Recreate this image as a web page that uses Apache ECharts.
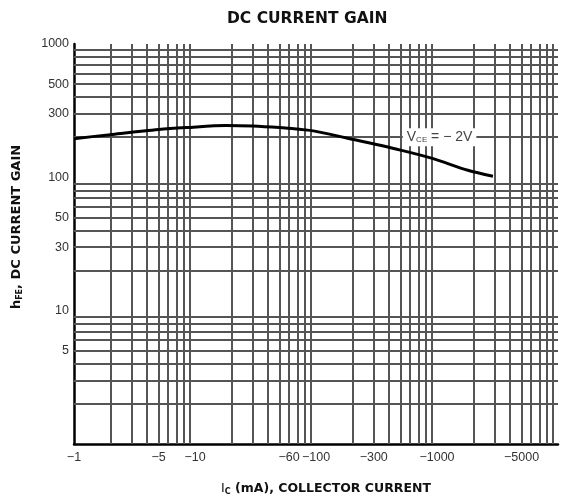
<!DOCTYPE html>
<html><head><meta charset="utf-8">
<script src="https://cdn.jsdelivr.net/npm/echarts@6/dist/echarts.min.js"></script>
<style>html,body{margin:0;padding:0;background:#fff}#c{width:569px;height:502px}</style>
</head><body><div id="c"></div>
<script>
// Collector current Ic (mA, magnitude) and DC current gain hFE at VCE = -2V
const icValues = [1, 2, 5, 8.5, 18, 30, 50, 85, 95, 190, 500, 930, 1800, 2900];
const hfeValues = [195, 209, 228, 236, 245, 243, 236, 226, 223, 195, 160, 138, 113, 102];
const xTickLabels = [1, 5, 10, 60, 100, 300, 1000, 5000];
const yTickLabels = [5, 10, 30, 50, 100, 300, 500, 1000];
const xGridValues = [2,3,4,5,6,7,8,9,20,30,40,50,60,70,80,90,200,300,400,500,600,700,800,900,2000,3000,4000,5000,6000,7000,8000,9000];
const yGridValues = [2,3,4,5,6,7,8,9,20,30,40,50,60,70,80,90,200,300,400,500,600,700,800,900];
const annotation = {ic: 1050, hfe: 200};

const chart = echarts.init(document.getElementById('c'), null, {renderer: 'canvas'});
const txt = '#333';
const bold = 'DejaVu Sans';
chart.setOption({
  animation: false,
  title: {
    text: 'DC CURRENT GAIN', left: 222, top: 6,
    textStyle: {fontFamily: bold, fontWeight: 'bold', fontSize: 15.5, color: '#111'}
  },
  grid: {left: 74, top: 44, right: 11, bottom: 58},
  xAxis: {
    type: 'log', logBase: 10, min: 1, max: 10000,
    name: '{i|I}{s|C} (mA), COLLECTOR CURRENT',
    nameLocation: 'middle', nameGap: 38,
    nameTextStyle: {
      padding: [0, 0, 0, 20],
      rich: {
        i: {fontFamily: bold, fontSize: 12.5, fontWeight: 'normal', color: '#111'},
        s: {fontFamily: bold, fontSize: 8, color: '#111', verticalAlign: 'bottom', padding: [6, 0, 0, 0]}
      },
      fontFamily: bold, fontWeight: 'bold', fontSize: 12.5, color: '#111'
    },
    axisLine: {show: true, lineStyle: {color: '#000', width: 2.5}},
    axisTick: {show: true, inside: true, length: 400, customValues: xGridValues, lineStyle: {color: '#555', width: 2}},
    minorTick: {show: false},
    splitLine: {show: true, lineStyle: {color: '#111', width: 2}},
    axisLabel: {
      customValues: xTickLabels, margin: 7,
      formatter: v => '\u2212' + String(v),
      fontFamily: 'Liberation Sans', fontSize: 12.5, color: txt
    }
  },
  yAxis: {
    type: 'log', logBase: 10, min: 1, max: 1000,
    name: '{h|h}{s|FE}, DC CURRENT GAIN',
    nameLocation: 'middle', nameGap: 50, nameRotate: 90,
    nameTextStyle: {
      padding: [0, 0, 0, 34],
      rich: {
        h: {fontFamily: bold, fontSize: 13, color: '#111'},
        s: {fontFamily: bold, fontSize: 8, color: '#111', verticalAlign: 'bottom', padding: [6, 0, 0, 0]}
      },
      fontFamily: bold, fontWeight: 'bold', fontSize: 13, color: '#111'
    },
    axisLine: {show: true, lineStyle: {color: '#000', width: 2.5}},
    axisTick: {show: true, inside: true, length: 484, customValues: yGridValues, lineStyle: {color: '#555', width: 2}},
    minorTick: {show: false},
    splitLine: {show: true, lineStyle: {color: '#111', width: 2}},
    axisLabel: {
      customValues: yTickLabels, margin: 5,
      formatter: v => String(v),
      fontFamily: 'Liberation Sans', fontSize: 12.5, color: txt
    }
  },
  series: [{
    type: 'line',
    data: icValues.map((x, i) => [x, hfeValues[i]]),
    smooth: 0.3,
    showSymbol: false,
    symbol: 'none',
    lineStyle: {color: '#000', width: 3},
    z: 5,
    markPoint: {
      symbol: 'rect', symbolSize: 1,
      itemStyle: {color: 'rgba(0,0,0,0)'},
      data: [{coord: [annotation.ic, annotation.hfe]}],
      label: {
        show: true, position: 'inside',
        formatter: '{v|V}{s|CE} = \u2212 2V',
        backgroundColor: '#fff', padding: [2, 4],
        fontFamily: 'Liberation Sans', fontSize: 14, color: '#444',
        rich: {
          v: {fontFamily: 'Liberation Sans', fontSize: 14, color: '#444'},
          s: {fontFamily: 'Liberation Sans', fontSize: 8, color: '#444', verticalAlign: 'bottom', padding: [6, 0, 0, 0]}
        }
      }
    }
  }]
});
</script></body></html>
